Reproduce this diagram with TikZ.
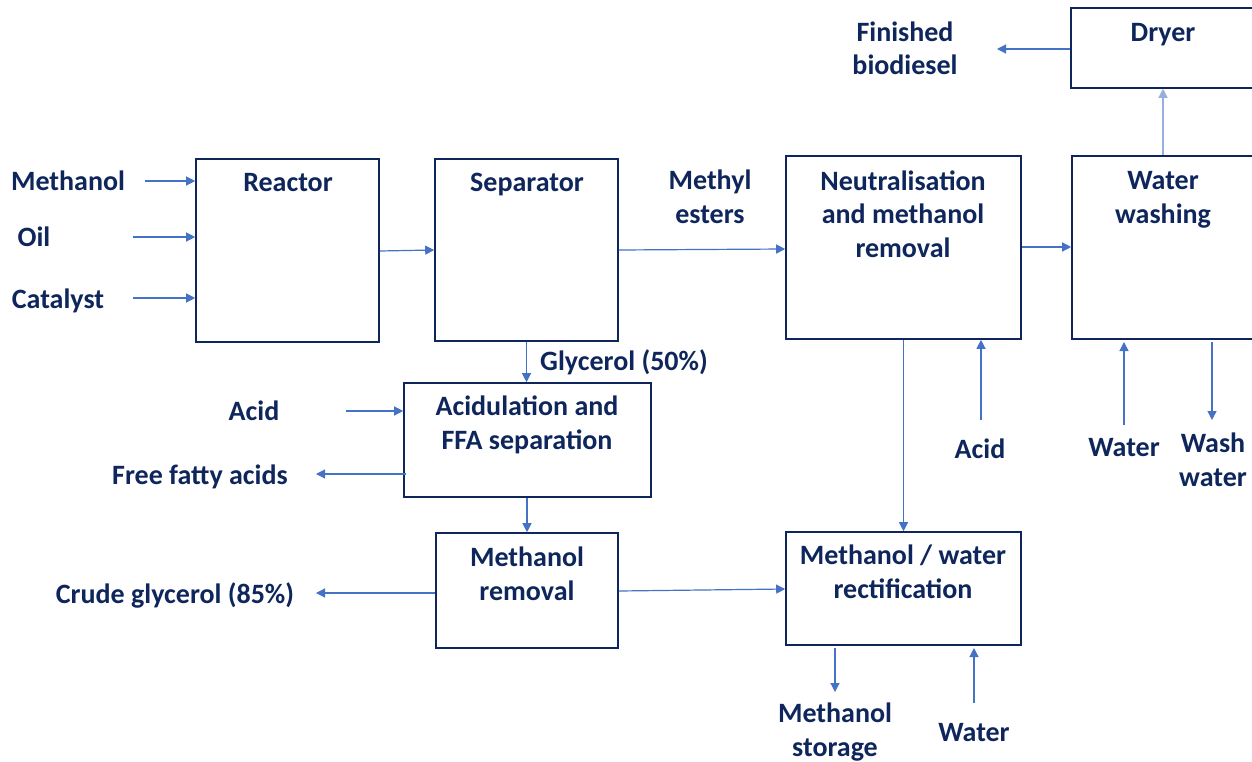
\documentclass[tikz,border=0pt]{standalone}
\usepackage{fontspec}
\setmainfont{Carlito}
\usetikzlibrary{arrows.meta}
\definecolor{navy}{RGB}{14,38,92}
\definecolor{arrblue}{RGB}{68,114,196}
\definecolor{lightarr}{RGB}{150,175,220}
\tikzset{
  box/.style={draw=navy, line width=1.6pt, rectangle, inner sep=0pt},
  lbl/.style={text=navy, font=\fontsize{28}{33.5}\selectfont\bfseries, align=center, inner sep=0pt, text height=21pt, text depth=3pt},
  arr/.style={draw=arrblue, line width=1.2pt, -{Triangle[length=9pt,width=9pt]}},
  arrl/.style={draw=lightarr, line width=1.4pt, -{Triangle[length=9pt,width=9pt]}},
}
\begin{document}
\begin{tikzpicture}[x=1pt,y=-1pt]
\useasboundingbox (0,0) rectangle (1252,762);
\fill[white] (0,0) rectangle (1252,762);
\clip (0,0) rectangle (1252,762);
% boxes
\node[box, minimum width=183pt, minimum height=183pt] (reactor) at (287.5,250.5) {};
\node[box, minimum width=183pt, minimum height=182pt] (sep) at (526.5,250) {};
\node[box, minimum width=235pt, minimum height=183pt] (neut) at (903.5,247.5) {};
\node[box, minimum width=200pt, minimum height=183pt] (wash) at (1172,247.5) {};
\node[box, minimum width=200pt, minimum height=80pt] (dryer) at (1171,48) {};
\node[box, minimum width=247pt, minimum height=114pt] (acid) at (527.5,440) {};
\node[box, minimum width=182pt, minimum height=115pt] (mrem) at (527,590.5) {};
\node[box, minimum width=235pt, minimum height=113pt] (rect) at (903.5,588.5) {};
% box labels (multi-line: position = last line)
\node[lbl] at (288,183) {Reactor};
\node[lbl] at (527,183) {Separator};
\node[lbl] at (903,248) {Neutralisation\\and methanol\\removal};
\node[lbl] at (1163,214) {Water\\washing};
\node[lbl] at (1163,33) {Dryer};
\node[lbl] at (527,440) {Acidulation and\\FFA separation};
\node[lbl] at (527,591) {Methanol\\removal};
\node[lbl] at (903,589) {Methanol / water\\rectification};
% free labels
\node[lbl] (lmeth) at (68,181) {Methanol};
\node[lbl] (loil) at (34,237) {Oil};
\node[lbl] (lcat) at (58,299) {Catalyst};
\node[lbl] (lme) at (710,214) {Methyl\\esters};
\node[lbl] (lfin) at (905,66) {Finished\\biodiesel};
\node[lbl] (lgly) at (624,361) {Glycerol (50\%)};
\node[lbl] (lacid) at (254,411) {Acid};
\node[lbl] (lffa) at (200,475) {Free fatty acids};
\node[lbl] (lcrude) at (175,594) {Crude glycerol (85\%)};
\node[lbl] (lacid2) at (980,449) {Acid};
\node[lbl] (lwat) at (1124,447) {Water};
\node[lbl] (lwash) at (1213,477) {Wash\\water};
\node[lbl] (lmst) at (835,747) {Methanol\\storage};
\node[lbl] (lwat2) at (974,732) {Water};
% free ends
\coordinate (cM) at (145,181);
\coordinate (cO) at (133,237);
\coordinate (cC) at (133,298);
\coordinate (cFin) at (997,49);
\coordinate (cAcid) at (346,411);
\coordinate (cFFA) at (316,474);
\coordinate (cFFAs) at (406,474);
\coordinate (cCrude) at (316,593);
\coordinate (cAcid2) at (981,420);
\coordinate (cWat) at (1124,425);
\coordinate (cWash) at (1212,420);
\coordinate (cWashs) at (1212,342);
\coordinate (cWats) at (1124,342);
\coordinate (cMst) at (835,692);
\coordinate (cMsts) at (835,648);
\coordinate (cWat2) at (974,703);
\coordinate (cWat2e) at (974,648);
% connectors
\draw[arr] (cM) -- (reactor.west |- cM);
\draw[arr] (cO) -- (reactor.west |- cO);
\draw[arr] (cC) -- (reactor.west |- cC);
\draw[arr] (reactor.east |- 0,251) -- (sep.west |- 0,250);
\draw[arr] (sep.east |- 0,250) -- (neut.west |- 0,249);
\draw[arr] (neut.east |- 0,247) -- (wash.west |- 0,247);
\draw[arrl] (wash.north -| 1163,0) -- (dryer.south -| 1163,0);
\draw[arr] (dryer.west |- cFin) -- (cFin);
\draw[arr] (sep.south) -- (acid.north -| sep.south);
\draw[arr] (cAcid) -- (acid.west |- cAcid);
\draw[arr] (cFFAs) -- (cFFA);
\draw[arr] (acid.south -| mrem.north) -- (mrem.north);
\draw[arr] (mrem.west |- cCrude) -- (cCrude);
\draw[arr] (mrem.east |- 0,591) -- (rect.west |- 0,589);
\draw[arr] (neut.south) -- (rect.north);
\draw[arr] (cAcid2) -- (neut.south -| cAcid2);
\draw[arr] (cWat) -- (cWats);
\draw[arr] (cWashs) -- (cWash);
\draw[arr] (cMsts) -- (cMst);
\draw[arr] (cWat2) -- (cWat2e);
\end{tikzpicture}
\end{document}
